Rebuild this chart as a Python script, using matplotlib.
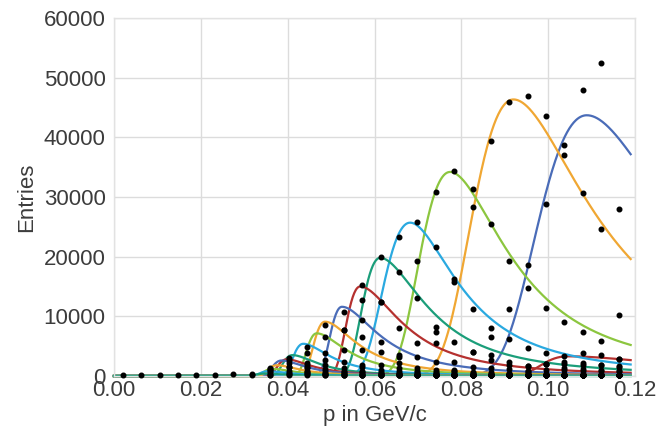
import numpy as np
import matplotlib
matplotlib.use("Agg")
import matplotlib.pyplot as plt

# ---------------- data ----------------
x_bins = [0.0021, 0.0063, 0.0106, 0.0148, 0.0190, 0.0233, 0.0275, 0.0317,
          0.0360, 0.0402, 0.0445, 0.0487, 0.0529, 0.0572, 0.0614, 0.0656,
          0.0699, 0.0741, 0.0783, 0.0826, 0.0868, 0.0910, 0.0953, 0.0995,
          0.1037, 0.1080, 0.1122, 0.1164]

# fitted peak parameters (right-most curve first)
peak_x = [0.1089, 0.0920, 0.0774, 0.0682, 0.0613, 0.0567, 0.0525, 0.0486,
          0.0467, 0.0436, 0.0411, 0.0398, 0.0386, 0.0375, 0.0365, 0.0355, 0.0345]
peak_h = [43700, 46350, 34200, 25700, 19800, 15000, 11600, 9100,
          7150, 5400, 3500, 2800, 2600, 1800, 1200, 800, 400]
width_left = [0.0095, 0.0080, 0.0059, 0.0052, 0.0035, 0.0027, 0.0023, 0.0022,
              0.0020, 0.0020, 0.0019, 0.0018, 0.0018, 0.0017, 0.0017, 0.0016, 0.0016]
width_right = [0.0099, 0.0086, 0.0064, 0.0053, 0.0050, 0.0045, 0.0040, 0.0035,
               0.0033, 0.0030, 0.0028, 0.0027, 0.0026, 0.0025, 0.0024, 0.0023, 0.0022]
palette = ["#4a6cb8", "#f0a733", "#8cc63f", "#2aa9e0", "#1b9e7a", "#b5312f"]

# secondary (red) bump on the right
bump_x, bump_h, bump_wl, bump_wr = 0.1045, 3300, 0.0050, 0.0120

# measured points: (first bin index, values)
dots_01 = (20, [1300, 11170, 18600, 28760, 38650, 47960, 52380, 28020])
dots_02 = (17, [7420, 15800, 28260, 39400, 45950, 46900, 43550, 37000, 30700, 24620, 10220])
dots_03 = (15, [3240, 19300, 30770, 34390, 31270, 25460, 19300, 14690, 11340, 9100, 7320, 5910, 2790])
dots_04 = (13, [1840, 12450, 23230, 25850, 21560, 16200, 11170, 8090, 6150, 4640, 3800, 2400, 2100, 1800, 1600])
dots_05 = (12, [440, 12730, 19980, 17470, 13010, 8260, 5750, 4070, 6480, 2300, 1600, 2000, 1300, 1100, 1000, 900])
dots_06 = (11, [300, 7700, 15240, 12450, 7990, 5470, 5470, 2400, 3960, 3570, 1800, 1600, 2000, 2000, 1800, 1800, 1500])
dots_07 = (10, [600, 2700, 10770, 9380, 5750, 3520, 3240, 2400, 1000, 1500, 2630, 1200, 800, 1000, 1000, 900, 900, 900])
dots_08 = (9, [200, 1500, 8540, 7700, 6580, 4070, 2120, 1280, 1000, 800, 700, 600, 500, 450, 400, 350, 300, 300, 250])
dots_09 = (10, [3800, 6580, 4360, 4360, 1840, 1280, 900, 700, 600, 500, 400, 350, 300, 300, 250, 200, 200, 200])
dots_10 = (9, [1560, 4910, 3800, 2400, 1560, 1000, 800, 600, 500, 400, 350, 300, 250, 200, 200, 200, 150, 150, 150])
dots_11 = (8, [100, 2960, 2120, 1840, 1280, 900, 700, 500, 400, 300, 300, 250, 200, 200, 150, 150, 150, 150, 150, 100])
dots_12 = (8, [220, 2700, 1800, 1100, 800, 600, 450, 350, 300, 250, 200, 200, 150, 150, 150, 100, 100, 100, 100, 100])
dots_13 = (8, [1000, 2200, 1400, 800, 600, 450, 350, 300, 250, 200, 150, 150, 150, 100, 100, 100, 100, 100, 100, 100])
dots_14 = (8, [1300, 1500, 900, 500, 350, 250, 200, 150, 150, 100, 100, 100, 100, 100, 100, 100, 100, 100, 100, 100])
dots_15 = (8, [1150, 900, 500, 300, 200, 150, 100, 100, 100, 100, 100, 100, 100, 100, 100, 100, 100, 100, 100, 100])
dots_16 = (7, [150, 780, 500, 300, 200, 150, 100, 100, 100, 100, 100, 100, 100, 100, 100, 100, 100, 100, 100, 100, 100])
dots_17 = (0, [250, 250, 200, 250, 150, 250, 300, 400, 500, 300, 200, 150, 100, 100, 100, 100, 100, 100, 100, 100,
               100, 100, 100, 100, 100, 100, 100, 100])
dots_bump = (21, [300, 900, 2000, 3350, 3910, 3520, 2790])

all_dots = [dots_01, dots_02, dots_03, dots_04, dots_05, dots_06, dots_07, dots_08, dots_09,
            dots_10, dots_11, dots_12, dots_13, dots_14, dots_15, dots_16, dots_17, dots_bump]

x_ticks = [0.00, 0.02, 0.04, 0.06, 0.08, 0.10, 0.12]
y_ticks = [0, 10000, 20000, 30000, 40000, 50000, 60000]


# ---------------- fit model (Moyal rise, Landau tail) ----------------
_t = np.linspace(1e-5, 25, 25000)
_base = np.exp(-_t * np.log(_t)) * np.sin(np.pi * _t)


def landau(lam):
    lam = np.asarray(lam, float).ravel()
    res = np.empty(lam.size)
    for i in range(0, lam.size, 256):
        L = lam[i:i + 256, None]
        res[i:i + 256] = np.trapezoid(_base * np.exp(-L * _t), _t, axis=1) / np.pi
    return res


LAM0 = -0.22278
PHI0 = landau([LAM0])[0]


def fit_curve(x, xp, h, sl, sr):
    y = np.zeros_like(x)
    left = x < xp
    u = np.maximum((x[left] - xp) / sl, -8.0)
    y[left] = h * np.exp(-(u + np.exp(-u) - 1.0) / 2.0)
    r = ~left
    y[r] = h * landau(LAM0 + (x[r] - xp) / sr) / PHI0
    return y


# ---------------- figure ----------------
plt.rcParams["font.family"] = ["Liberation Sans", "DejaVu Sans"]
fig = plt.figure(figsize=(6.6, 4.36), dpi=100)
ax = fig.add_axes([114 / 660, 1 - 376 / 436, (635 - 114) / 660, (376 - 18) / 436])

xx = np.linspace(0.0, 0.119, 700)

ax.plot(xx, fit_curve(xx, bump_x, bump_h, bump_wl, bump_wr), color=palette[5],
        lw=1.6, zorder=2, clip_on=False)
for i in range(len(peak_x)):
    ax.plot(xx, fit_curve(xx, peak_x[i], peak_h[i], width_left[i], width_right[i]),
            color=palette[i % 6], lw=1.6, zorder=2 + i * 0.01, clip_on=False)

for start, vals in all_dots:
    xs = x_bins[start:start + len(vals)]
    ax.plot(xs, vals[:len(xs)], "o", color="black", ms=3.3, zorder=5, clip_on=False)

ax.set_xlim(0, 0.12)
ax.set_ylim(0, 60000)
ax.set_xticks(x_ticks)
ax.set_xticklabels([f"{v:.2f}" for v in x_ticks])
ax.set_yticks(y_ticks)
ax.set_yticklabels([str(v) for v in y_ticks])
ax.grid(True, color="#dcdcdc", lw=1.0)
ax.set_axisbelow(True)
for s in ax.spines.values():
    s.set_color("#e2e2e2")
    s.set_linewidth(1.0)
ax.tick_params(length=0, labelsize=16, labelcolor="#3c3c3c")
ax.tick_params(axis="y", pad=6)
ax.tick_params(axis="x", pad=3)
ax.set_xlabel("p in GeV/c", fontsize=16, color="#3c3c3c", labelpad=3)
ax.set_ylabel("Entries", fontsize=16, color="#3c3c3c", labelpad=5)

fig.savefig("out.png", dpi=100)
